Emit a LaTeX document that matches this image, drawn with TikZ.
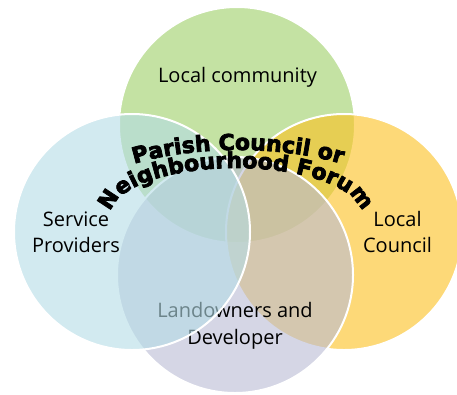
\documentclass[tikz,border=0pt]{standalone}
\usepackage{fontspec}
\setmainfont{Open Sans}
\newfontfamily\arcfont{DejaVu Sans Bold}[FakeBold=3.5]
\newcommand\arcstyle{\arcfont\fontsize{22pt}{22pt}\selectfont}
\usetikzlibrary{decorations.text}
\definecolor{cgreen}{RGB}{158,207,102}
\definecolor{corange}{RGB}{253,193,30}
\definecolor{clav}{RGB}{185,187,213}
\definecolor{cblue}{RGB}{180,220,230}
\begin{document}
\begin{tikzpicture}[x=1pt,y=-1pt,
  bubble/.style={draw=white, line width=2pt, fill opacity=0.6},
  lbl/.style={font=\fontsize{20pt}{20pt}\selectfont, anchor=base, inner sep=0pt, text=black},
  arctext/.style n args={2}{decorate, decoration={text along path, text align=center, text color=#2, text={|\arcstyle|#1}}}
]
\fill[white] (0,0) rectangle (457,394);
\useasboundingbox (0,0) rectangle (457,394);
% green: local community
\path[bubble, fill=cgreen] (237,125) circle[radius=118];
\node[lbl] (lc) at (237.5,82) {Local community};
% orange: local council
\path[bubble, fill=corange] (344,232) circle[radius=118];
\node[lbl] (lo1) at (397.5,226) {Local};
\node[lbl] (lo2) at (397.5,252) {Council};
% lavender: landowners
\path[bubble, fill=clav] (235,275) circle[radius=118];
\node[lbl] (la1) at (235,317) {Landowners and};
\node[lbl] (la2) at (235,344) {Developer};
% blue: service providers
\path[bubble, fill=cblue] (132,232) circle[radius=118];
\node[lbl] (sp1) at (76,226) {Service};
\node[lbl] (sp2) at (76,252) {Providers};
% arched title
\path[arctext={Parish Council or}{black}] (238-168,214.5) arc[start angle=-180, end angle=0, x radius=168, y radius=64.5];
\path[arctext={Neighbourhood Forum}{black}] (236-125,214.5) arc[start angle=-180, end angle=0, x radius=125, y radius=46.5];
\end{tikzpicture}
\end{document}
